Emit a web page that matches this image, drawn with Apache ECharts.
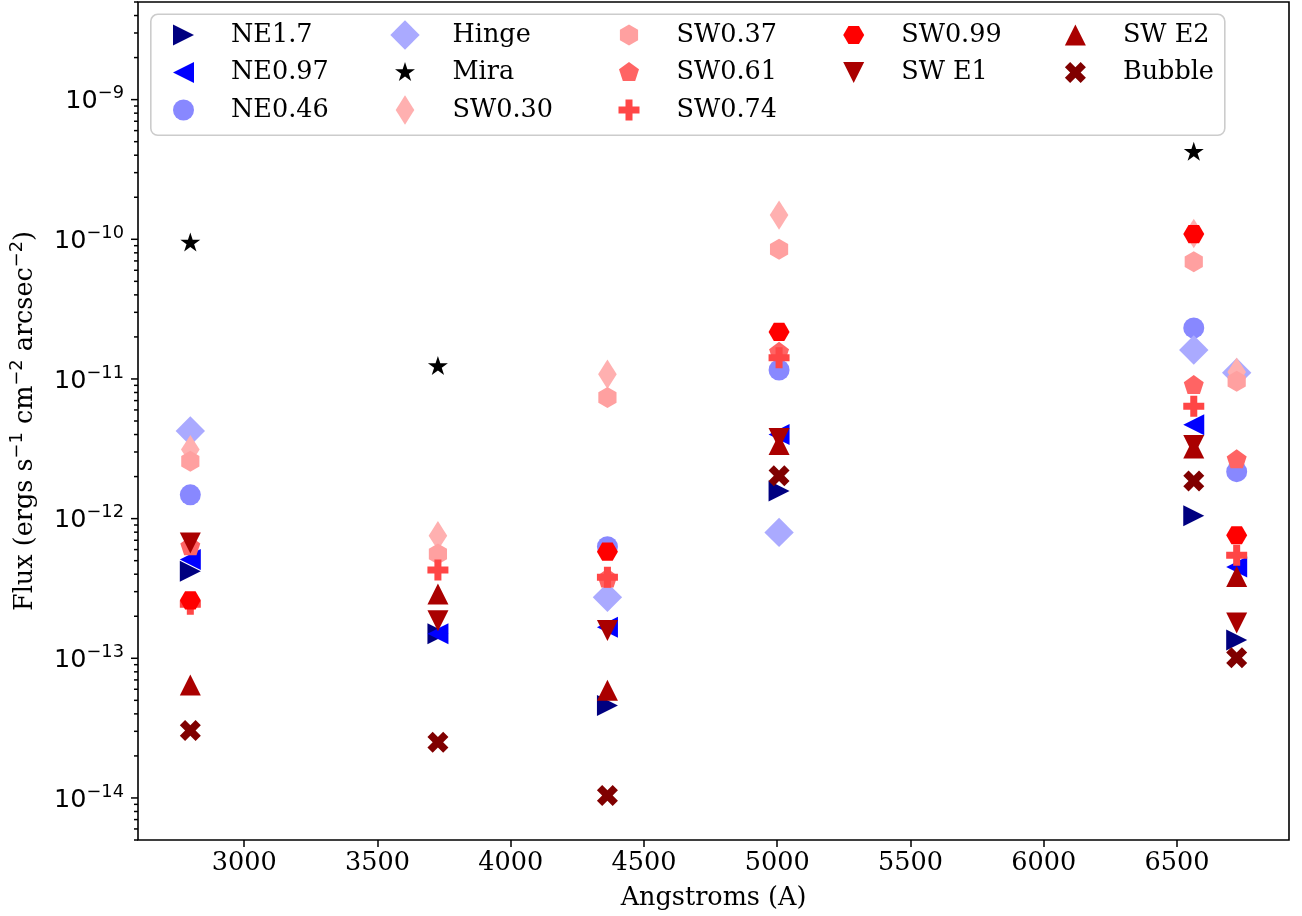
<!DOCTYPE html>
<html><head><meta charset="utf-8">
<script src="https://cdn.jsdelivr.net/npm/echarts@6/dist/echarts.min.js"></script>
<style>html,body{margin:0;padding:0;background:#fff}#c{width:1302px;height:916px}</style>
</head><body><div id="c"></div>
<script>
// ---- data ----
const wavelengths = [2798, 3727, 4363, 5007, 6563, 6724];
const NE1_7   = [4.2e-13, 1.5e-13, 4.6e-14, 1.58e-12, 1.05e-12, 1.35e-13];
const NE0_97  = [5.1e-13, 1.5e-13, 1.67e-13, 4.0e-12, 4.7e-12, 4.5e-13];
const NE0_46  = [1.48e-12, null, 6.3e-13, 1.16e-11, 2.32e-11, 2.17e-12];
const Hinge   = [4.24e-12, null, 2.73e-13, 7.97e-13, 1.61e-11, 1.11e-11];
const Mira    = [9.4e-11, 1.23e-11, null, null, 4.2e-10, null];
const SW0_30  = [3.12e-12, 7.55e-13, 1.08e-11, 1.49e-10, 1.1e-10, 1.12e-11];
const SW0_37  = [2.57e-12, 5.58e-13, 7.36e-12, 8.48e-11, 6.9e-11, 9.64e-12];
const SW0_61  = [6.3e-13, null, 3.7e-13, 1.55e-11, 8.96e-12, 2.64e-12];
const SW0_74  = [2.44e-13, 4.29e-13, 3.8e-13, 1.42e-11, 6.37e-12, 5.47e-13];
const SW0_99  = [2.6e-13, null, 5.8e-13, 2.17e-11, 1.09e-10, 7.6e-13];
const SW_E1   = [6.7e-13, 1.86e-13, 1.58e-13, 3.75e-12, 3.34e-12, 1.79e-13];
const SW_E2   = [6.44e-14, 2.89e-13, 5.9e-14, 3.4e-12, 3.2e-12, 3.85e-13];
const Bubble  = [3.04e-14, 2.51e-14, 1.04e-14, 2.03e-12, 1.86e-12, 1.01e-13];

const seriesNames = ['NE1.7','NE0.97','NE0.46','Hinge','Mira','SW0.30','SW0.37','SW0.61','SW0.74','SW0.99','SW E1','SW E2','Bubble'];
const seriesValues = [NE1_7, NE0_97, NE0_46, Hinge, Mira, SW0_30, SW0_37, SW0_61, SW0_74, SW0_99, SW_E1, SW_E2, Bubble];
const seriesColors = ['#000080','#0000ff','#8888ff','#aaaaff','#000000','#ffb0b0','#ffa0a0','#ff6464','#ff4646','#ff0000','#aa0000','#aa0000','#800000'];
const seriesMarkers = ['tri_right','tri_left','circle','diamond','star','thin_diamond','hexagon1','pentagon','plus','hexagon2','tri_down','tri_up','xfilled'];

const legendColumns = [
  ['NE1.7','NE0.97','NE0.46'],
  ['Hinge','Mira','SW0.30'],
  ['SW0.37','SW0.61','SW0.74'],
  ['SW0.99','SW E1'],
  ['SW E2','Bubble']
];

const xTickValues = [3000, 3500, 4000, 4500, 5000, 5500, 6000, 6500];
const yMajorTicks = [1e-14, 1e-13, 1e-12, 1e-11, 1e-10, 1e-9];
const xMin = 2601.7, xMax = 6920.3;
const yMin = 5e-15, yMax = 5e-9;

// ---- marker shapes (drawn in a common 30x30 box so legend/plot sizes match) ----
const PAD = 'M-15,-15M15,15';
function poly(pts){ return 'M' + pts.map(p => p[0].toFixed(3) + ',' + p[1].toFixed(3)).join('L') + 'Z'; }
function regular(n, R, startDeg, inner){
  const pts = [];
  const k = inner ? 2*n : n;
  for (let i = 0; i < k; i++) {
    const a = (startDeg + i * 360 / k) * Math.PI / 180;
    const r = inner && (i % 2 === 1) ? R * inner : R;
    pts.push([Math.cos(a) * r, -Math.sin(a) * r]);
  }
  return pts;
}
const h = 10.5;
const shapes = {
  tri_right: poly([[-h,-h],[h,0],[-h,h]]),
  tri_left: poly([[h,-h],[-h,0],[h,h]]),
  tri_up: poly([[0,-h],[h,h],[-h,h]]),
  tri_down: poly([[-h,-h],[h,-h],[0,h]]),
  circle: 'M-10.5,0A10.5,10.5,0,1,1,10.5,0A10.5,10.5,0,1,1,-10.5,0Z',
  diamond: poly([[0,-14.7],[14.7,0],[0,14.7],[-14.7,0]]),
  thin_diamond: poly([[0,-14.7],[9.3,0],[0,14.7],[-9.3,0]]),
  star: poly(regular(5, 10.5, 90, 0.381966)),
  hexagon1: poly(regular(6, 10.5, 90)),
  hexagon2: poly(regular(6, 10.5, 0)),
  pentagon: poly(regular(5, 10.5, 90)),
  plus: poly([[-3.5,-10.5],[3.5,-10.5],[3.5,-3.5],[10.5,-3.5],[10.5,3.5],[3.5,3.5],[3.5,10.5],[-3.5,10.5],[-3.5,3.5],[-10.5,3.5],[-10.5,-3.5],[-3.5,-3.5]]),
  xfilled: poly([[-1,-2],[0,-1],[1,-2],[2,-1],[1,0],[2,1],[1,2],[0,1],[-1,2],[-2,1],[-1,0],[-2,-1]].map(p => [p[0]*5.25, p[1]*5.25]))
};

// ---- y tick marks (major + minor) ----
const yTickMarks = [];
yMajorTicks.forEach(v => yTickMarks.push([xMin, v, 7]));
for (let n = -15; n <= -9; n++) {
  for (let m = 2; m <= 9; m++) {
    const v = m * Math.pow(10, n);
    if (v >= yMin * 0.999 && v <= yMax * 1.001) yTickMarks.push([xMin, v, 4]);
  }
}

const SERIF = 'DejaVu Serif';
const SANS = 'DejaVu Sans';
const FS = 25.5;

const series = seriesNames.map((name, i) => ({
  name: name,
  type: 'scatter',
  symbol: 'path://' + PAD + shapes[seriesMarkers[i]],
  symbolSize: 30,
  symbolKeepAspect: true,
  itemStyle: { color: seriesColors[i], opacity: 1 },
  emphasis: { disabled: true },
  data: wavelengths.map((w, j) => [w, seriesValues[i][j]]).filter(d => d[1] != null),
  z: 2
}));

series.push({
  type: 'custom',
  silent: true,
  clip: false,
  z: 10,
  data: yTickMarks,
  encode: { x: 0, y: 1 },
  renderItem: function (params, api) {
    const p = api.coord([api.value(0), api.value(1)]);
    const len = api.value(2);
    return { type: 'line', shape: { x1: p[0] - len, y1: p[1], x2: p[0], y2: p[1] }, style: { stroke: '#000', lineWidth: 1.5 } };
  }
});

// legend item box is 85 wide; the legend box is placed by its drawn content (icon left edge)
const legendMarkerCentres = [183.5, 405, 629, 853.7, 1075.4];
const legends = legendColumns.map((col, i) => ({
  orient: 'vertical',
  left: legendMarkerCentres[i] - 15,
  top: 20,
  padding: 0,
  itemWidth: 85,
  itemHeight: 30,
  itemGap: 7.5,
  selectedMode: false,
  data: col,
  textStyle: { fontFamily: SERIF, fontSize: FS, color: '#000' }
}));

const chart = echarts.init(document.getElementById('c'), null, { renderer: 'canvas' });
chart.setOption({
  animation: false,
  backgroundColor: '#fff',
  grid: { left: 137, top: 2, right: 13, bottom: 76, show: true, borderColor: '#000', borderWidth: 1.6, backgroundColor: 'transparent' },
  legend: legends,
  graphic: [{
    type: 'rect', left: 150, top: 13.5, z: 0, zlevel: 0,
    shape: { width: 1074, height: 121, r: 7 },
    style: { fill: 'rgba(255,255,255,0.8)', stroke: '#cccccc', lineWidth: 1.6 }
  }],
  xAxis: {
    type: 'value', min: xMin, max: xMax,
    axisLine: { show: false },
    splitLine: { show: false },
    axisTick: { show: true, customValues: xTickValues, length: 7, lineStyle: { color: '#000', width: 1.5 } },
    axisLabel: { customValues: xTickValues, margin: 10, fontFamily: SERIF, fontSize: FS, color: '#000', formatter: v => String(v) },
    name: 'Angstroms (A)', nameLocation: 'middle', nameGap: 45,
    nameTextStyle: { fontFamily: SERIF, fontSize: FS, color: '#000' }
  },
  yAxis: {
    type: 'log', logBase: 10, min: yMin, max: yMax,
    axisLine: { show: false },
    splitLine: { show: false },
    axisTick: { show: false },
    axisLabel: {
      margin: 14,
      formatter: function (v) {
        const e = Math.log10(v);
        const r = Math.round(e);
        if (Math.abs(e - r) > 1e-6) return '';
        return '{a|10}{b|\u2212' + Math.abs(r) + '}';
      },
      rich: {
        a: { fontFamily: SANS, fontSize: FS, color: '#000', lineHeight: 30, padding: [4, 0, 0, 0], verticalAlign: 'bottom' },
        b: { fontFamily: SANS, fontSize: 17.8, color: '#000', lineHeight: 18, verticalAlign: 'top' }
      }
    },
    name: '{t|Flux (ergs s}{s|\u22121}{t| cm}{s|\u22122}{t| arcsec}{s|\u22122}{t|)}',
    nameLocation: 'middle', nameRotate: 90, nameGap: 100,
    nameTextStyle: {
      rich: {
        t: { fontFamily: SERIF, fontSize: FS, color: '#000', lineHeight: 30, verticalAlign: 'bottom' },
        s: { fontFamily: SANS, fontSize: 17.8, color: '#000', lineHeight: 18, verticalAlign: 'top' }
      }
    }
  },
  series: series
});
</script>
</body></html>
